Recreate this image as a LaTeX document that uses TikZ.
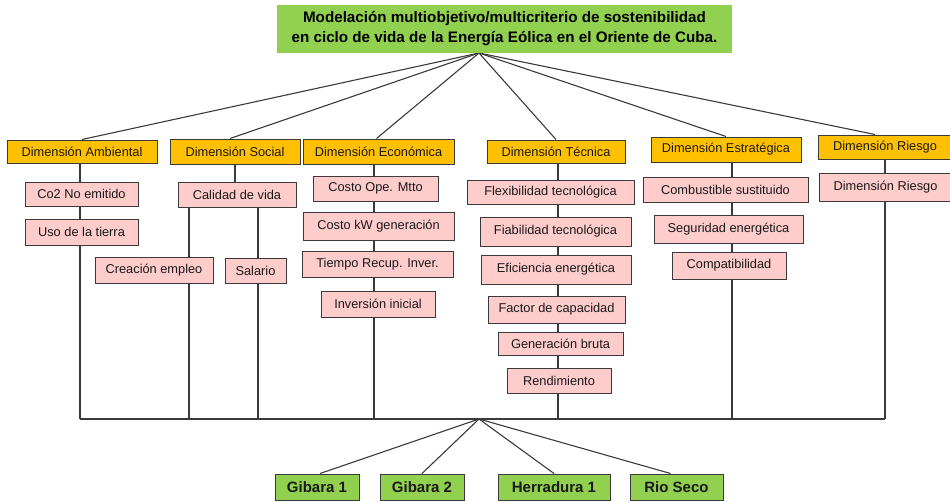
\documentclass[tikz,border=0pt]{standalone}
\usepackage{fontspec}
\setmainfont{Liberation Sans}
\usetikzlibrary{backgrounds}
\definecolor{goldc}{HTML}{FFC000}
\definecolor{pinkc}{HTML}{FFCCCC}
\definecolor{greenc}{HTML}{92D050}
\definecolor{linec}{HTML}{3A3A3A}
\begin{document}
\begin{tikzpicture}[x=1pt,y=-1pt,
  box/.style={draw=linec, line width=1pt, inner sep=0pt, font=\fontsize{12.8}{14}\selectfont, text=black!90},
  dimbox/.style={box, fill=goldc},
  itembox/.style={box, fill=pinkc},
  sitebox/.style={box, fill=greenc, font=\fontsize{15}{17}\bfseries\selectfont},
  titlebox/.style={draw=none, fill=greenc, inner sep=0pt, align=center, font=\fontsize{15.2}{20}\bfseries\selectfont},
  conn/.style={draw=linec, line width=1.1pt}]
\useasboundingbox (0,0) rectangle (950,501);

% title
\node[titlebox, minimum width=455, minimum height=48] (title) at (504.5,29)
  {Modelación  multiobjetivo/multicriterio  de sostenibilidad\\
   en ciclo de vida de la Energía Eólica en el Oriente de Cuba.};

% dimensions
\node[dimbox, minimum width=150, minimum height=23] (amb) at (82,151.5) {Dimensión Ambiental};
\node[dimbox, minimum width=130, minimum height=25] (soc) at (235,151.5) {Dimensión Social};
\node[dimbox, minimum width=151, minimum height=25] (eco) at (378.5,151.5) {Dimensión Económica};
\node[dimbox, minimum width=138, minimum height=23] (tec) at (556,151.5) {Dimensión Técnica};
\node[dimbox, minimum width=150, minimum height=25] (est) at (726,149.5) {Dimensión Estratégica};
\node[dimbox, minimum width=134, minimum height=24] (rie) at (885,147) {Dimensión Riesgo};

% items
\node[itembox, minimum width=113, minimum height=24] (co2) at (81.5,194) {Co2 No emitido};
\node[itembox, minimum width=113, minimum height=26] (uso) at (81.5,232) {Uso de la tierra};
\node[itembox, minimum width=118, minimum height=25] (cal) at (237,194.5) {Calidad de vida};
\node[itembox, minimum width=118, minimum height=26] (emp) at (154,270) {Creación empleo};
\node[itembox, minimum width=61, minimum height=25] (sal) at (255.5,270.5) {Salario};
\node[itembox, minimum width=125, minimum height=25] (cop) at (375.5,188.5) {Costo Ope. Mtto};
\node[itembox, minimum width=151, minimum height=28] (ckw) at (378.5,226) {Costo kW generación};
\node[itembox, minimum width=151, minimum height=26] (trc) at (377.5,264) {Tiempo Recup. Inver.};
\node[itembox, minimum width=114, minimum height=26] (inv) at (378,304) {Inversión inicial};
\node[itembox, minimum width=167, minimum height=24] (flx) at (550.5,192) {Flexibilidad tecnológica};
\node[itembox, minimum width=151, minimum height=29] (fia) at (555.5,231.5) {Fiabilidad tecnológica};
\node[itembox, minimum width=150, minimum height=29] (efi) at (556,269.5) {Eficiencia energética};
\node[itembox, minimum width=137, minimum height=27] (fac) at (556.5,309.5) {Factor de capacidad};
\node[itembox, minimum width=125, minimum height=23] (gen) at (560.5,343.5) {Generación bruta};
\node[itembox, minimum width=104, minimum height=25] (ren) at (559,380.5) {Rendimiento};
\node[itembox, minimum width=165, minimum height=25] (com) at (725.5,189.5) {Combustible sustituido};
\node[itembox, minimum width=149, minimum height=28] (seg) at (728.5,229) {Seguridad energética};
\node[itembox, minimum width=114, minimum height=27] (cpt) at (729,265.5) {Compatibilidad};
\node[itembox, minimum width=133, minimum height=28] (rie2) at (885.5,187) {Dimensión Riesgo};

% sites
\node[sitebox, minimum width=84, minimum height=26] (g1) at (317,487) {Gibara 1};
\node[sitebox, minimum width=84, minimum height=26] (g2) at (422,487) {Gibara 2};
\node[sitebox, minimum width=112, minimum height=26] (h1) at (554,487) {Herradura 1};
\node[sitebox, minimum width=93, minimum height=26] (rs) at (676.5,487) {Rio Seco};

% coordinates
\coordinate (apex) at (479,53);
\coordinate (bapex) at (479,419);
\coordinate (bA) at (80,419);
\coordinate (bS1) at (189,419);
\coordinate (bS2) at (258,419);
\coordinate (bE) at (374,419);
\coordinate (bT) at (558,419);
\coordinate (bS) at (732,419);
\coordinate (bR) at (885,419);

\begin{pgfonlayer}{background}
  % top fan
  \draw[conn] (apex) -- (amb.north);
  \draw[conn] (apex) -- ([xshift=-5pt]soc.north);
  \draw[conn] (apex) -- ([xshift=-2pt]eco.north);
  \draw[conn] (apex) -- (tec.north);
  \draw[conn] (apex) -- (est.north);
  \draw[conn] (apex) -- ([xshift=-10pt]rie.north);
  % columns
  \draw[conn] (amb.south -| bA) -- (bA);
  \draw[conn] (soc.south) -- (soc.south |- cal.north);
  \draw[conn] (cal.south -| bS1) -- (bS1);
  \draw[conn] (cal.south -| bS2) -- (bS2);
  \draw[conn] (eco.south -| bE) -- (bE);
  \draw[conn] (tec.south -| bT) -- (bT);
  \draw[conn] (est.south -| bS) -- (bS);
  \draw[conn] (rie.south -| bR) -- (bR);
  % bus
  \draw[conn] (bA) -- (bR);
  % bottom fan
  \draw[conn] (bapex) -- ([xshift=3pt]g1.north);
  \draw[conn] (bapex) -- (g2.north);
  \draw[conn] (bapex) -- (h1.north);
  \draw[conn] (bapex) -- ([xshift=-6pt]rs.north);
\end{pgfonlayer}
\end{tikzpicture}
\end{document}
